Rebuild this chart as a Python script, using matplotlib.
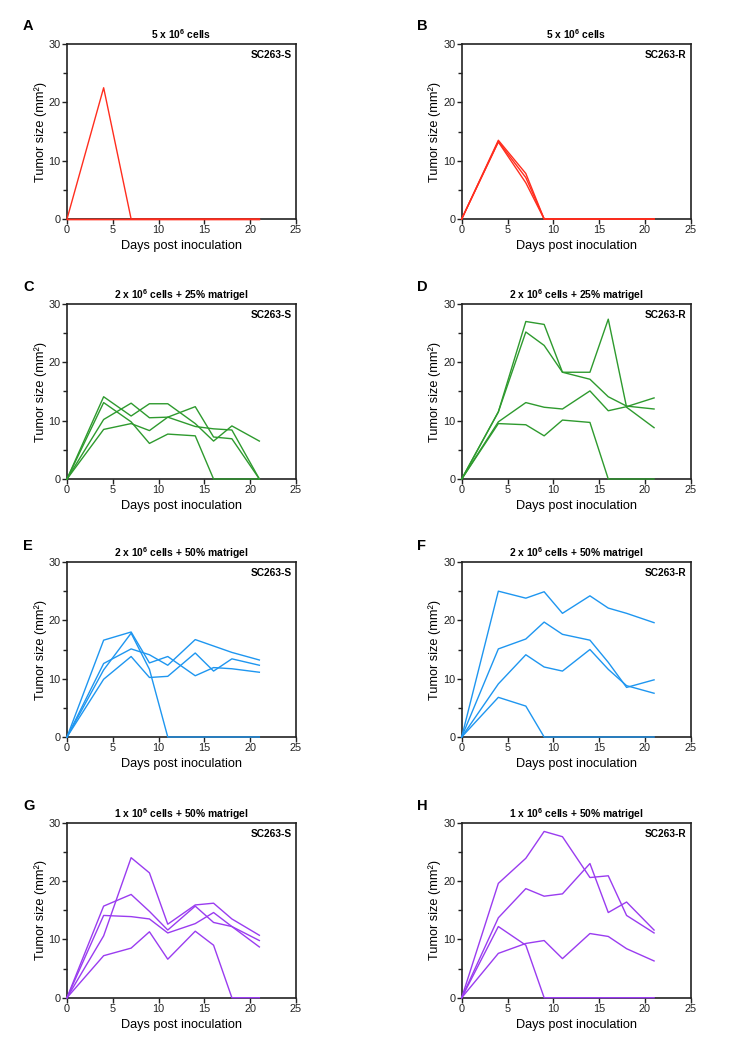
import matplotlib
matplotlib.use("Agg")
import matplotlib.pyplot as plt

plt.rcParams['font.family'] = ['Liberation Sans', 'DejaVu Sans']
plt.rcParams['mathtext.fontset'] = 'custom'
plt.rcParams['mathtext.rm'] = 'Liberation Sans'
plt.rcParams['mathtext.bf'] = 'Liberation Sans:bold'
plt.rcParams['mathtext.it'] = 'Liberation Sans:italic'

days = [0, 4, 7, 9, 11, 14, 16, 18, 21]

A_series = [
    [0, 22.5, 0, 0, 0, 0, 0, 0, 0],
    [0, 0, 0, 0, 0, 0, 0, 0, 0],
    [0, 0, 0, 0, 0, 0, 0, 0, 0],
]
B_series = [
    [0, 13.5, 7.8, 0, 0, 0, 0, 0, 0],
    [0, 13.3, 7.1, 0, 0, 0, 0, 0, 0],
    [0, 13.2, 6.2, 0, 0, 0, 0, 0, 0],
]
C_series = [
    [0, 14.1, 10.8, 12.9, 12.9, 9.5, 6.5, 9.1, 6.5],
    [0, 13.1, 9.8, 6.1, 7.7, 7.4, 0, 0, 0],
    [0, 10.2, 13.0, 10.5, 10.6, 12.4, 7.2, 6.9, 0],
    [0, 8.5, 9.5, 8.3, 10.6, 9.0, 8.6, 8.4, 0],
]
D_series = [
    [0, 11.5, 27.0, 26.5, 18.3, 18.3, 27.4, 12.3, 8.8],
    [0, 11.5, 25.2, 22.9, 18.3, 17.1, 14.1, 12.5, 12.0],
    [0, 9.8, 13.1, 12.3, 12.0, 15.1, 11.7, 12.4, 13.9],
    [0, 9.5, 9.3, 7.4, 10.1, 9.7, 0, 0, 0],
]
E_series = [
    [0, 16.6, 18.0, 12.7, 13.8, 10.5, 11.9, 11.7, 11.1],
    [0, 11.5, 17.8, 11.6, 0, 0, 0, 0, 0],
    [0, 12.6, 15.1, 14.1, 12.3, 16.7, 15.6, 14.5, 13.2],
    [0, 9.9, 13.8, 10.2, 10.4, 14.4, 11.3, 13.4, 12.3],
]
F_series = [
    [0, 25.0, 23.8, 24.9, 21.2, 24.2, 22.1, 21.2, 19.6],
    [0, 15.1, 16.8, 19.7, 17.6, 16.6, 12.8, 8.5, 9.8],
    [0, 9.1, 14.1, 12.0, 11.3, 15.0, 11.6, 8.8, 7.5],
    [0, 6.8, 5.3, 0, 0, 0, 0, 0, 0],
]
G_series = [
    [0, 10.6, 24.0, 21.4, 12.6, 15.9, 16.2, 13.5, 10.7],
    [0, 15.7, 17.7, 14.8, 11.6, 15.7, 12.9, 12.2, 9.8],
    [0, 14.1, 13.9, 13.5, 11.1, 12.7, 14.6, 12.2, 8.7],
    [0, 7.2, 8.5, 11.3, 6.6, 11.4, 9.0, 0, 0],
]
H_series = [
    [0, 19.6, 23.9, 28.5, 27.6, 20.6, 20.9, 14.1, 11.1],
    [0, 13.7, 18.7, 17.4, 17.8, 23.0, 14.6, 16.4, 11.6],
    [0, 12.2, 9.0, 0, 0, 0, 0, 0, 0],
    [0, 7.6, 9.3, 9.8, 6.7, 11.0, 10.5, 8.4, 6.3],
]

panel_letters = ['A', 'B', 'C', 'D', 'E', 'F', 'G', 'H']
titles = [
    r'$\mathbf{5\ x\ 10^{6}\ cells}$',
    r'$\mathbf{5\ x\ 10^{6}\ cells}$',
    r'$\mathbf{2\ x\ 10^{6}\ cells\ {+}\ 25\%\ matrigel}$',
    r'$\mathbf{2\ x\ 10^{6}\ cells\ {+}\ 25\%\ matrigel}$',
    r'$\mathbf{2\ x\ 10^{6}\ cells\ {+}\ 50\%\ matrigel}$',
    r'$\mathbf{2\ x\ 10^{6}\ cells\ {+}\ 50\%\ matrigel}$',
    r'$\mathbf{1\ x\ 10^{6}\ cells\ {+}\ 50\%\ matrigel}$',
    r'$\mathbf{1\ x\ 10^{6}\ cells\ {+}\ 50\%\ matrigel}$',
]
lines_labels = ['SC263-S', 'SC263-R'] * 4
all_series = [A_series, B_series, C_series, D_series, E_series, F_series, G_series, H_series]
colors = ['#FF2D1E', '#FF2D1E', '#2E9A2E', '#2E9A2E', '#1E96F0', '#1E96F0', '#9A3CF0', '#9A3CF0']

W, H = 738, 1048
fig = plt.figure(figsize=(W / 100, H / 100), dpi=100)

col_left = [67 / W, 461.7 / W]
width = 229 / W
height = 175 / H
bottoms = [1 - 219 / H, 1 - 479 / H, 1 - 737 / H, 1 - 997.7 / H]
letter_x = [23 / W, 417 / W]
letter_y = [1 - 26 / H, 1 - 287 / H, 1 - 546 / H, 1 - 806 / H]

for i in range(8):
    r, c = divmod(i, 2)
    ax = fig.add_axes([col_left[c], bottoms[r], width, height])
    for s in all_series[i]:
        ax.plot(days, s, color=colors[i], lw=1.0, zorder=3, clip_on=False)
    ax.set_xlim(0, 25)
    ax.set_ylim(0, 30)
    ax.set_xticks([0, 5, 10, 15, 20, 25])
    ax.set_yticks([0, 10, 20, 30])
    ax.set_yticks([5, 15, 25], minor=True)
    ax.tick_params(axis='both', which='major', labelsize=7.8, length=3.5, width=1.0,
                   direction='out', pad=1.0, colors='#222222')
    ax.tick_params(axis='y', which='minor', length=3.0, width=1.0, colors='#222222')
    for sp in ax.spines.values():
        sp.set_linewidth(1.2)
        sp.set_color('#222222')
    ax.set_xlabel('Days post inoculation', fontsize=9.2, labelpad=3.5)
    ax.set_ylabel('Tumor size (mm²)', fontsize=9.2, labelpad=1.5)
    ax.set_title(titles[i], fontsize=7.4, pad=3.5)
    ax.text(0.98, 0.965, lines_labels[i], transform=ax.transAxes, ha='right', va='top',
            fontsize=7.3, fontweight='bold')
    fig.text(letter_x[c], letter_y[r], panel_letters[i], fontsize=10.5, fontweight='bold',
             ha='left', va='center')

fig.savefig('out.png', dpi=100)
